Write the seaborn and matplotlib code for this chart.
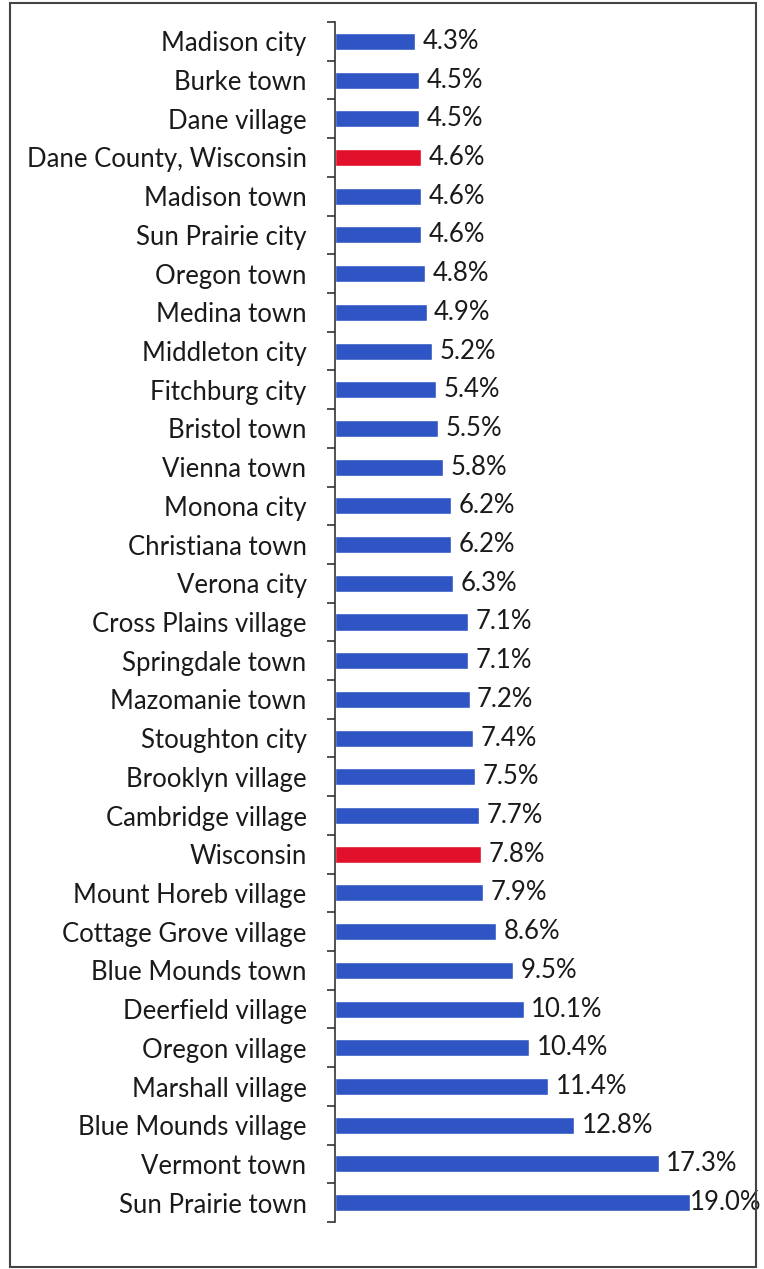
import matplotlib
matplotlib.use('Agg')
import matplotlib.pyplot as plt
import seaborn as sns
import pandas as pd

places = [
    "Madison city", "Burke town", "Dane village", "Dane County, Wisconsin",
    "Madison town", "Sun Prairie city", "Oregon town", "Medina town",
    "Middleton city", "Fitchburg city", "Bristol town", "Vienna town",
    "Monona city", "Christiana town", "Verona city", "Cross Plains village",
    "Springdale town", "Mazomanie town", "Stoughton city", "Brooklyn village",
    "Cambridge village", "Wisconsin", "Mount Horeb village",
    "Cottage Grove village", "Blue Mounds town", "Deerfield village",
    "Oregon village", "Marshall village", "Blue Mounds village",
    "Vermont town", "Sun Prairie town",
]
rates = [
    4.3, 4.5, 4.5, 4.6, 4.6, 4.6, 4.8, 4.9, 5.2, 5.4, 5.5, 5.8, 6.2, 6.2,
    6.3, 7.1, 7.1, 7.2, 7.4, 7.5, 7.7, 7.8, 7.9, 8.6, 9.5, 10.1, 10.4,
    11.4, 12.8, 17.3, 19.0,
]
highlight = ["Dane County, Wisconsin", "Wisconsin"]

df = pd.DataFrame({"place": places, "rate": rates})
df["kind"] = ["ref" if p in highlight else "place" for p in places]

sns.set_style("white")
plt.rcParams['font.family'] = ['Lato', 'DejaVu Sans']

fig = plt.figure(figsize=(7.64, 12.69), dpi=100)
ax = fig.add_axes([335 / 764, 1 - 1222 / 1269, 425 / 764, 1200 / 1269])

sns.barplot(data=df, x="rate", y="place", hue="kind",
            palette={"place": "#2F55C4", "ref": "#E3102C"},
            dodge=False, width=0.44, legend=False, ax=ax, saturation=1)

ax.set_xlim(0, 425 / 18.7)
ax.set_xlabel("")
ax.set_ylabel("")
ax.set_xticks([])
for side in ["top", "right", "bottom"]:
    ax.spines[side].set_visible(False)
ax.spines["left"].set_color("#333333")
ax.spines["left"].set_linewidth(1.2)

n = len(places)
ax.set_yticks(range(n))
ax.set_yticklabels(places, fontsize=18.5, color="#1a1a1a")
ax.tick_params(axis="y", which="major", left=False, pad=17)
ax.set_yticks([i - 0.5 for i in range(n + 1)], minor=True)
ax.tick_params(axis="y", which="minor", left=True, length=6, width=1.2,
               color="#333333", direction="out")
ax.set_ylim(n - 0.5, -0.5)

# like the original, the longest label sits right at its bar end so it fits
for i, v in enumerate(rates):
    ax.text(min(v + 0.4, 18.95), i, f"{v:.1f}%", va="center", ha="left",
            fontsize=18.5, color="#1a1a1a")

frame = plt.Rectangle((10 / 764, 2 / 1269), 746 / 764, 1264 / 1269, transform=fig.transFigure,
                      fill=False, edgecolor="#444444", linewidth=1.5)
fig.patches.append(frame)

fig.savefig("out.png", dpi=100)
plt.close()
